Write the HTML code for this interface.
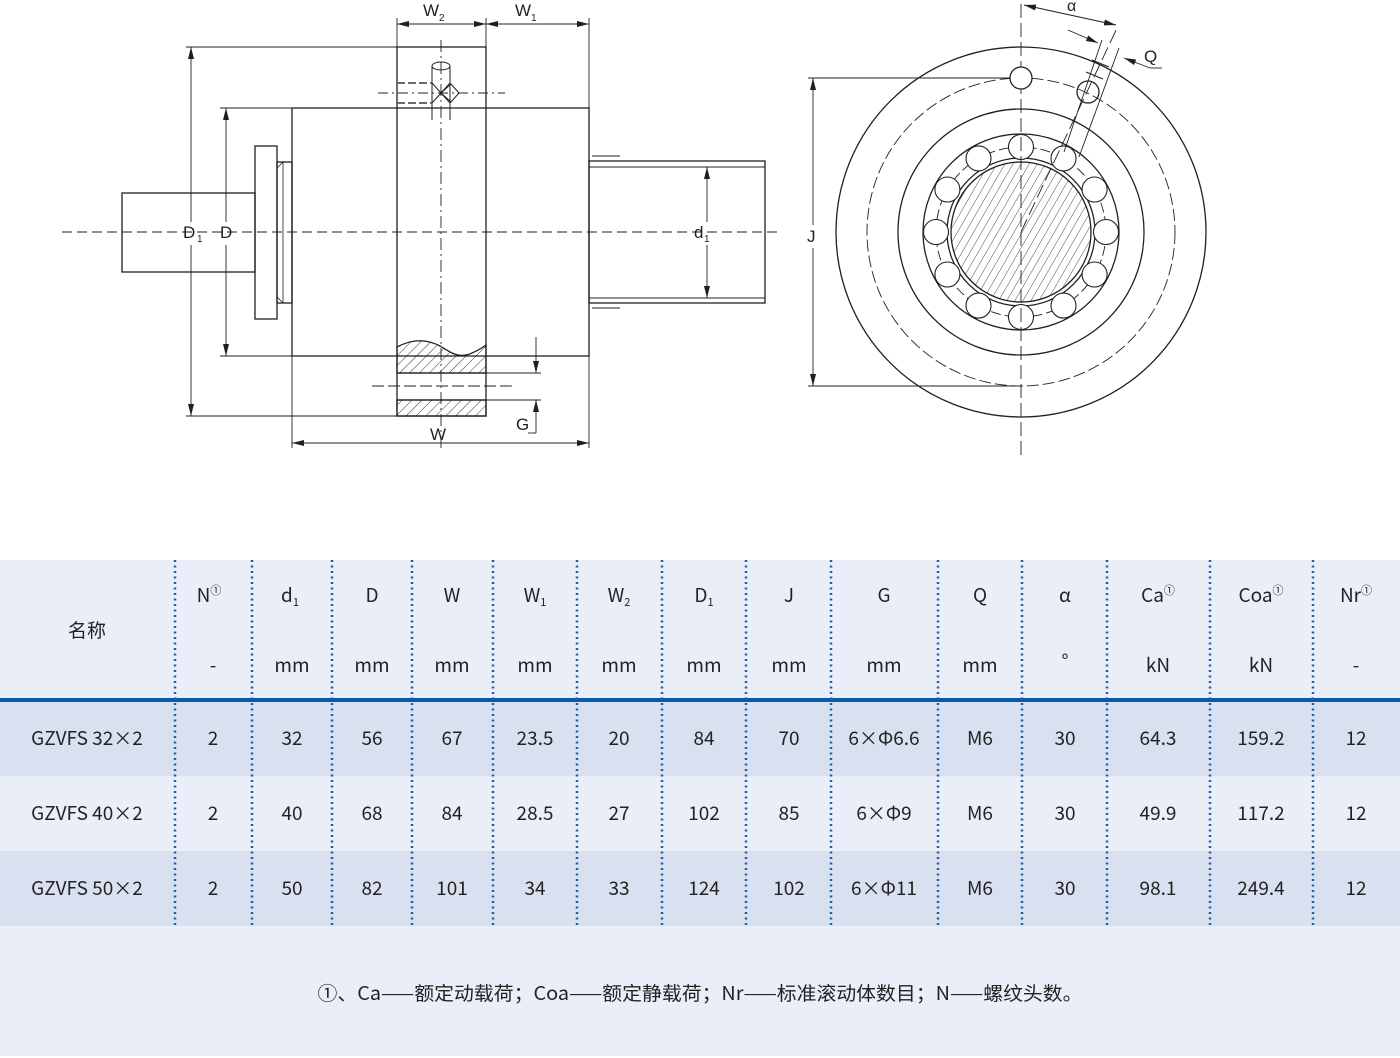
<!DOCTYPE html>
<html><head><meta charset="utf-8"><style>
html,body{margin:0;padding:0;background:#fff;}
svg{display:block;}
text{font-family:"Liberation Sans","Noto Sans CJK SC",sans-serif;fill:#231f20;}
.t text{font-family:"Noto Sans CJK SC","Liberation Sans",sans-serif;font-size:19px;text-anchor:middle;fill:#222;}
</style></head><body>
<svg width="1400" height="1058" viewBox="0 0 1400 1058" xmlns="http://www.w3.org/2000/svg">
<defs>
<pattern id="h" width="7" height="7" patternUnits="userSpaceOnUse" patternTransform="rotate(45)">
<line x1="0" y1="0" x2="0" y2="7" stroke="#231f20" stroke-width="0.9"/></pattern>
<pattern id="h2" width="7" height="7" patternUnits="userSpaceOnUse" patternTransform="rotate(30)">
<line x1="0" y1="0" x2="0" y2="7" stroke="#231f20" stroke-width="0.8"/></pattern>
<marker id="a" viewBox="0 0 12 6" refX="12" refY="3" markerWidth="12" markerHeight="6" orient="auto-start-reverse" markerUnits="userSpaceOnUse"><path d="M0,0 L12,3 L0,6z" fill="#231f20"/></marker>
</defs>

<!-- LEFT VIEW -->
<g stroke="#231f20" stroke-width="1.3" fill="none">
<rect x="122" y="193" width="133" height="79"/>
<rect x="255" y="146" width="22" height="173"/>
<rect x="277" y="162" width="15" height="141"/>
<line x1="283" y1="162" x2="283" y2="303" stroke-width="0.8"/>
<line x1="277" y1="168" x2="283" y2="162" stroke-width="0.8"/>
<line x1="277" y1="297" x2="283" y2="303" stroke-width="0.8"/>
<rect x="292" y="108" width="297" height="248"/>
<rect x="589" y="161" width="176" height="142"/>
<line x1="589" y1="167" x2="765" y2="167" stroke-width="0.9"/>
<line x1="589" y1="298" x2="765" y2="298" stroke-width="0.9"/>
<line x1="592" y1="156" x2="620" y2="156" stroke-width="0.9"/>
<line x1="592" y1="308" x2="620" y2="308" stroke-width="0.9"/>
<rect x="397" y="47" width="89" height="369"/>
<line x1="62" y1="232" x2="780" y2="232" stroke-dasharray="10 5" stroke-width="0.9"/>
<line x1="441" y1="40" x2="441" y2="448" stroke-dasharray="12 4 2 4" stroke-width="0.9"/>
<!-- hatched lower -->
<path d="M397,347 C410,340 425,338 440,346 C455,355 462,362 486,345 L486,373 L397,373 Z" fill="url(#h)" stroke="#231f20"/>
<rect x="397" y="400" width="89" height="16" fill="url(#h)"/>
<line x1="397" y1="373" x2="486" y2="373"/>
<line x1="397" y1="400" x2="486" y2="400"/>
<line x1="372" y1="386" x2="512" y2="386" stroke-dasharray="12 4" stroke-width="0.9"/>
<!-- pin -->
<ellipse cx="441" cy="66" rx="9" ry="4" stroke-width="1"/>
<line x1="432" y1="66" x2="432" y2="120" stroke-width="1"/>
<line x1="450" y1="66" x2="450" y2="120" stroke-width="1"/>
<line x1="397" y1="83" x2="432" y2="83" stroke-dasharray="8 3" stroke-width="1.8" stroke="#555"/>
<line x1="397" y1="103" x2="432" y2="103" stroke-dasharray="8 3" stroke-width="1.8" stroke="#555"/>
<line x1="378" y1="93" x2="505" y2="93" stroke-dasharray="10 4 2 4" stroke-width="0.9"/>
<line x1="432" y1="83" x2="450" y2="103" stroke-width="1"/>
<line x1="432" y1="103" x2="450" y2="83" stroke-width="1"/>
<path d="M441,93 L451,84 L459,93 L451,102 Z" stroke-width="1"/>
<!-- dims -->
<g stroke-width="0.9">
<line x1="186" y1="47" x2="397" y2="47"/>
<line x1="186" y1="416" x2="397" y2="416"/>
<line x1="191" y1="47" x2="191" y2="222" marker-start="url(#a)"/>
<line x1="191" y1="245" x2="191" y2="416" marker-end="url(#a)"/>
<line x1="220" y1="108" x2="292" y2="108"/>
<line x1="220" y1="356" x2="292" y2="356"/>
<line x1="226" y1="108" x2="226" y2="222" marker-start="url(#a)"/>
<line x1="226" y1="245" x2="226" y2="356" marker-end="url(#a)"/>
<line x1="707" y1="167" x2="707" y2="222" marker-start="url(#a)"/>
<line x1="707" y1="245" x2="707" y2="298" marker-end="url(#a)"/>
<line x1="292" y1="356" x2="292" y2="448"/>
<line x1="589" y1="18" x2="589" y2="161"/>
<line x1="589" y1="303" x2="589" y2="448"/>
<line x1="292" y1="443" x2="589" y2="443" marker-start="url(#a)" marker-end="url(#a)"/>
<line x1="397" y1="18" x2="397" y2="47"/>
<line x1="486" y1="18" x2="486" y2="47"/>
<line x1="397" y1="24" x2="486" y2="24" marker-start="url(#a)" marker-end="url(#a)"/>
<line x1="486" y1="24" x2="589" y2="24" marker-start="url(#a)" marker-end="url(#a)"/>
<line x1="486" y1="373" x2="541" y2="373"/>
<line x1="486" y1="400" x2="541" y2="400"/>
<line x1="536" y1="337" x2="536" y2="373" marker-end="url(#a)"/>
<line x1="536" y1="433" x2="536" y2="400" marker-end="url(#a)"/>
<line x1="528" y1="433" x2="536" y2="433"/>
</g>
</g>
<g font-size="17">
<text x="183" y="238">D</text><text x="197" y="242" font-size="10">1</text>
<text x="220" y="238">D</text>
<text x="694" y="238">d</text><text x="704" y="242" font-size="10">1</text>
<text x="430" y="440">W</text>
<text x="516" y="430">G</text>
<text x="423" y="16">W</text><text x="439" y="21" font-size="10">2</text>
<text x="515" y="16">W</text><text x="531" y="21" font-size="10">1</text>
<text x="807" y="242">J</text>
<text x="1067" y="11" font-size="16">α</text>
<text x="1144" y="62">Q</text>
</g>

<!-- RIGHT VIEW -->
<g stroke="#231f20" stroke-width="1.3" fill="none">
<circle cx="1021" cy="232" r="70" fill="url(#h2)"/>
<circle cx="1021" cy="232" r="185"/>
<circle cx="1021" cy="232" r="154" stroke-dasharray="12 4" stroke-width="0.9"/>
<circle cx="1021" cy="232" r="123"/>
<circle cx="1021" cy="232" r="98"/>
<circle cx="1021" cy="232" r="74"/>
<circle cx="1021" cy="232" r="85" stroke-dasharray="10 4" stroke-width="0.9"/>
<g fill="#fff" stroke-width="1.1">
<circle cx="1021" cy="147" r="12.5"/><circle cx="1063.5" cy="158.4" r="12.5"/><circle cx="1094.6" cy="189.5" r="12.5"/>
<circle cx="1106" cy="232" r="12.5"/><circle cx="1094.6" cy="274.5" r="12.5"/><circle cx="1063.5" cy="305.6" r="12.5"/>
<circle cx="1021" cy="317" r="12.5"/><circle cx="978.5" cy="305.6" r="12.5"/><circle cx="947.4" cy="274.5" r="12.5"/>
<circle cx="936" cy="232" r="12.5"/><circle cx="947.4" cy="189.5" r="12.5"/><circle cx="978.5" cy="158.4" r="12.5"/>
</g>
<line x1="1021" y1="4" x2="1021" y2="458" stroke-dasharray="14 5" stroke-width="0.9"/>
<circle cx="1021" cy="78" r="11" fill="#fff"/>
<line x1="1021" y1="232" x2="1118" y2="26" stroke-dasharray="14 5" stroke-width="0.9"/>
<line x1="1064" y1="152" x2="1102" y2="40" stroke-width="0.9"/>
<line x1="1079" y1="157" x2="1119" y2="48" stroke-width="0.9"/>
<path d="M1086,72 L1103,79 M1092,60 L1109,67" stroke-width="1"/>
<circle cx="1088" cy="92" r="11" fill="none"/>
<g stroke-width="0.9">
<line x1="808" y1="78" x2="1010" y2="78"/>
<line x1="808" y1="386" x2="1021" y2="386"/>
<line x1="813" y1="78" x2="813" y2="225" marker-start="url(#a)"/>
<line x1="813" y1="248" x2="813" y2="386" marker-end="url(#a)"/>
<line x1="1024" y1="5" x2="1116" y2="25" marker-start="url(#a)" marker-end="url(#a)"/>
<line x1="1068" y1="30" x2="1098" y2="43" marker-end="url(#a)"/>
<line x1="1150" y1="68" x2="1124" y2="58" marker-end="url(#a)"/>
<line x1="1150" y1="68" x2="1162" y2="68"/>
</g>
</g>

<!-- TABLE -->
<rect x="0" y="560" width="1400" height="138" fill="#e9eef8"/>
<rect x="0" y="698" width="1400" height="4" fill="#0b5aa9"/>
<rect x="0" y="702" width="1400" height="74" fill="#d9e0f0"/>
<rect x="0" y="776" width="1400" height="75" fill="#e9eef8"/>
<rect x="0" y="851" width="1400" height="75" fill="#d9e0f0"/>
<rect x="0" y="926" width="1400" height="130" fill="#e9eef8"/>
<g stroke="#1d5fae" stroke-width="2.5" stroke-dasharray="2 3.5">
<line x1="175" y1="560" x2="175" y2="926"/><line x1="252" y1="560" x2="252" y2="926"/>
<line x1="332" y1="560" x2="332" y2="926"/><line x1="412" y1="560" x2="412" y2="926"/>
<line x1="493" y1="560" x2="493" y2="926"/><line x1="577" y1="560" x2="577" y2="926"/>
<line x1="662" y1="560" x2="662" y2="926"/><line x1="746" y1="560" x2="746" y2="926"/>
<line x1="831" y1="560" x2="831" y2="926"/><line x1="938" y1="560" x2="938" y2="926"/>
<line x1="1022" y1="560" x2="1022" y2="926"/><line x1="1107" y1="560" x2="1107" y2="926"/>
<line x1="1210" y1="560" x2="1210" y2="926"/><line x1="1313" y1="560" x2="1313" y2="926"/>
</g>
<g class="t">
<text x="87" y="637">名称</text>
<text x="209" y="602">N<tspan font-size="11" dy="-8">①</tspan></text>
<text x="290" y="602">d<tspan font-size="11" dy="4">1</tspan></text>
<text x="372" y="602">D</text><text x="452" y="602">W</text>
<text x="535" y="602">W<tspan font-size="11" dy="4">1</tspan></text>
<text x="619" y="602">W<tspan font-size="11" dy="4">2</tspan></text>
<text x="704" y="602">D<tspan font-size="11" dy="4">1</tspan></text>
<text x="789" y="602">J</text><text x="884" y="602">G</text><text x="980" y="602">Q</text><text x="1065" y="602">α</text>
<text x="1158" y="602">Ca<tspan font-size="11" dy="-8">①</tspan></text>
<text x="1261" y="602">Coa<tspan font-size="11" dy="-8">①</tspan></text>
<text x="1356" y="602">Nr<tspan font-size="11" dy="-8">①</tspan></text>
<text x="213" y="672">-</text><text x="292" y="672">mm</text><text x="372" y="672">mm</text><text x="452" y="672">mm</text>
<text x="535" y="672">mm</text><text x="619" y="672">mm</text><text x="704" y="672">mm</text><text x="789" y="672">mm</text>
<text x="884" y="672">mm</text><text x="980" y="672">mm</text><text x="1065" y="668">°</text><text x="1158" y="672">kN</text>
<text x="1261" y="672">kN</text><text x="1356" y="672">-</text>

<text x="87" y="745">GZVFS 32×2</text><text x="213" y="745">2</text><text x="292" y="745">32</text><text x="372" y="745">56</text>
<text x="452" y="745">67</text><text x="535" y="745">23.5</text><text x="619" y="745">20</text><text x="704" y="745">84</text>
<text x="789" y="745">70</text><text x="884" y="745">6×Φ6.6</text><text x="980" y="745">M6</text><text x="1065" y="745">30</text>
<text x="1158" y="745">64.3</text><text x="1261" y="745">159.2</text><text x="1356" y="745">12</text>

<text x="87" y="820">GZVFS 40×2</text><text x="213" y="820">2</text><text x="292" y="820">40</text><text x="372" y="820">68</text>
<text x="452" y="820">84</text><text x="535" y="820">28.5</text><text x="619" y="820">27</text><text x="704" y="820">102</text>
<text x="789" y="820">85</text><text x="884" y="820">6×Φ9</text><text x="980" y="820">M6</text><text x="1065" y="820">30</text>
<text x="1158" y="820">49.9</text><text x="1261" y="820">117.2</text><text x="1356" y="820">12</text>

<text x="87" y="895">GZVFS 50×2</text><text x="213" y="895">2</text><text x="292" y="895">50</text><text x="372" y="895">82</text>
<text x="452" y="895">101</text><text x="535" y="895">34</text><text x="619" y="895">33</text><text x="704" y="895">124</text>
<text x="789" y="895">102</text><text x="884" y="895">6×Φ11</text><text x="980" y="895">M6</text><text x="1065" y="895">30</text>
<text x="1158" y="895">98.1</text><text x="1261" y="895">249.4</text><text x="1356" y="895">12</text>

<text x="700" y="1000" textLength="765" lengthAdjust="spacingAndGlyphs">①、Ca——额定动载荷；Coa——额定静载荷；Nr——标准滚动体数目；N——螺纹头数。</text>
</g>
</svg>
</body></html>
